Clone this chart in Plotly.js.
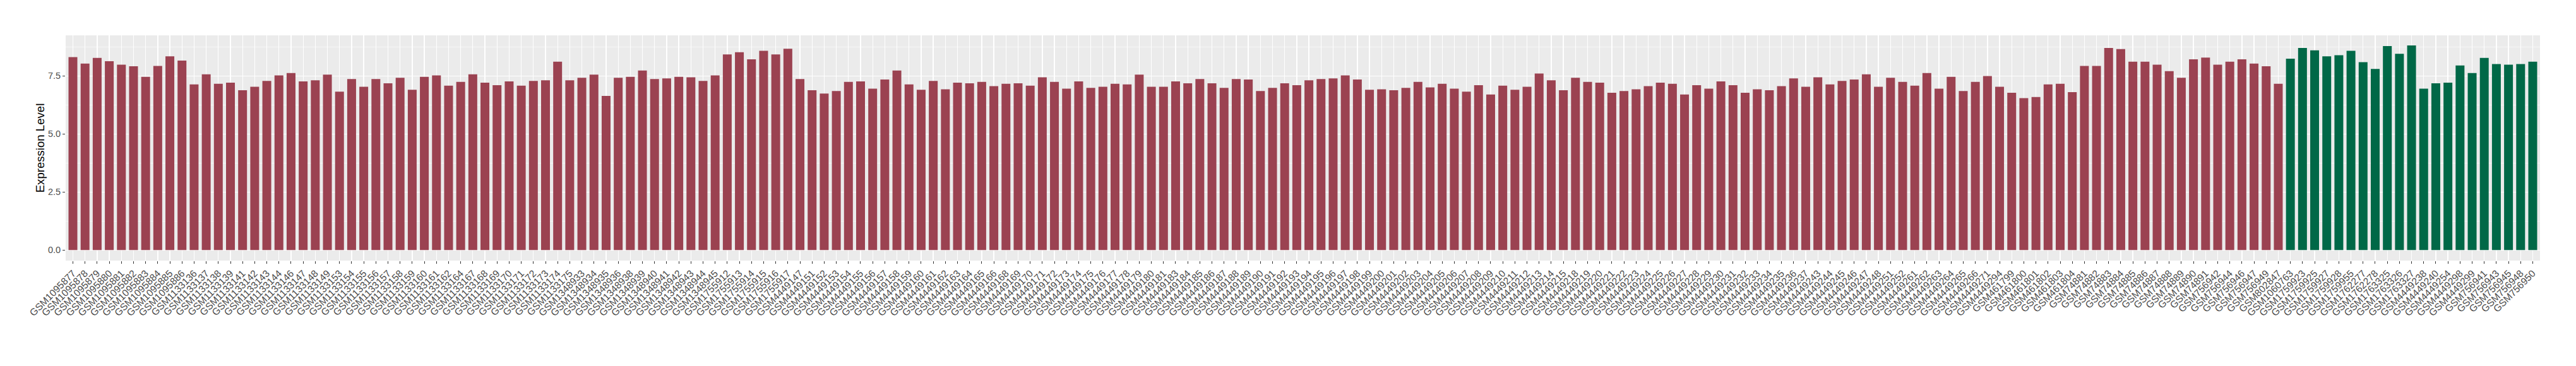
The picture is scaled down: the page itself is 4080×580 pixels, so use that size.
<!DOCTYPE html>
<html>
<head>
<meta charset="utf-8">
<script src="https://cdn.plot.ly/plotly-3.0.1.min.js"></script>
<style>html,body{margin:0;padding:0;background:#fff;}#chart{width:4080px;height:580px;}</style>
</head>
<body>
<div id="chart"></div>
<script>
// Group 1 (red) samples
const samplesGroup1 = [
"GSM1095877","GSM1095878","GSM1095879","GSM1095880","GSM1095881","GSM1095882","GSM1095883","GSM1095884","GSM1095885","GSM1095886",
"GSM1133136","GSM1133137","GSM1133138","GSM1133139","GSM1133141","GSM1133142","GSM1133143","GSM1133144","GSM1133146","GSM1133147",
"GSM1133148","GSM1133149","GSM1133153","GSM1133154","GSM1133155","GSM1133156","GSM1133157","GSM1133158","GSM1133159","GSM1133160",
"GSM1133161","GSM1133162","GSM1133164","GSM1133167","GSM1133168","GSM1133169","GSM1133170","GSM1133171","GSM1133172","GSM1133173",
"GSM1133174","GSM1133175","GSM1348933","GSM1348934","GSM1348935","GSM1348936","GSM1348938","GSM1348939","GSM1348940","GSM1348941",
"GSM1348942","GSM1348943","GSM1348944","GSM1348945","GSM1755912","GSM1755913","GSM1755914","GSM1755915","GSM1755916","GSM1755917",
"GSM4449147","GSM4449151","GSM4449152","GSM4449153","GSM4449154","GSM4449155","GSM4449156","GSM4449157","GSM4449158","GSM4449159",
"GSM4449160","GSM4449161","GSM4449162","GSM4449163","GSM4449164","GSM4449165","GSM4449166","GSM4449168","GSM4449169","GSM4449170",
"GSM4449171","GSM4449172","GSM4449173","GSM4449174","GSM4449175","GSM4449176","GSM4449177","GSM4449178","GSM4449179","GSM4449180",
"GSM4449181","GSM4449183","GSM4449184","GSM4449185","GSM4449186","GSM4449187","GSM4449188","GSM4449189","GSM4449190","GSM4449191",
"GSM4449192","GSM4449193","GSM4449194","GSM4449195","GSM4449196","GSM4449197","GSM4449198","GSM4449199","GSM4449200","GSM4449201",
"GSM4449202","GSM4449203","GSM4449204","GSM4449205","GSM4449206","GSM4449207","GSM4449208","GSM4449209","GSM4449210","GSM4449211",
"GSM4449212","GSM4449213","GSM4449214","GSM4449215","GSM4449218","GSM4449219","GSM4449220","GSM4449221","GSM4449222","GSM4449223",
"GSM4449224","GSM4449225","GSM4449226","GSM4449227","GSM4449228","GSM4449229","GSM4449230","GSM4449231","GSM4449232","GSM4449233",
"GSM4449234","GSM4449235","GSM4449236","GSM4449237","GSM4449243","GSM4449244","GSM4449245","GSM4449246","GSM4449247","GSM4449248",
"GSM4449251","GSM4449252","GSM4449261","GSM4449262","GSM4449263","GSM4449264","GSM4449265","GSM4449266","GSM4449271","GSM4449294",
"GSM461799","GSM461800","GSM461801","GSM461802","GSM461803","GSM461804","GSM74881","GSM74882","GSM74883","GSM74884",
"GSM74885","GSM74886","GSM74887","GSM74888","GSM74889","GSM74890","GSM74891","GSM756942","GSM756944","GSM756946",
"GSM756947","GSM756949","GSM802847"
];
const valuesGroup1 = [
8.31,8.03,8.27,8.13,7.98,7.91,7.46,7.93,8.34,8.16,
7.13,7.57,7.16,7.21,6.88,7.03,7.28,7.52,7.62,7.26,
7.31,7.55,6.82,7.36,7.03,7.36,7.18,7.42,6.90,7.46,
7.52,7.08,7.24,7.57,7.21,7.10,7.26,7.08,7.28,7.31,
8.11,7.31,7.42,7.55,6.64,7.42,7.46,7.73,7.36,7.39,
7.46,7.44,7.28,7.52,8.42,8.52,8.21,8.58,8.42,8.67,
7.36,6.88,6.74,6.85,7.24,7.26,6.95,7.34,7.73,7.13,
6.90,7.28,6.92,7.21,7.18,7.24,7.06,7.16,7.18,7.08,
7.44,7.24,6.95,7.26,6.98,7.03,7.16,7.13,7.55,7.03,
7.03,7.26,7.18,7.36,7.18,6.98,7.36,7.34,6.85,6.98,
7.18,7.10,7.31,7.36,7.39,7.52,7.34,6.90,6.92,6.88,
6.98,7.24,7.00,7.16,6.95,6.82,7.10,6.70,7.08,6.90,
7.03,7.60,7.31,6.88,7.42,7.24,7.21,6.77,6.85,6.92,
7.06,7.21,7.16,6.70,7.10,6.95,7.26,7.10,6.77,6.92,
6.88,7.06,7.39,7.03,7.44,7.13,7.28,7.34,7.57,7.03,
7.42,7.24,7.08,7.62,6.95,7.46,6.85,7.24,7.49,7.03,
6.77,6.54,6.59,7.13,7.16,6.80,7.93,7.93,8.70,8.65,
8.11,8.11,7.98,7.70,7.42,8.21,8.29,7.98,8.11,8.21,
8.03,7.91,7.16
];
// Group 2 (green) samples
const samplesGroup2 = [
"GSM1060763","GSM1759923","GSM1759925","GSM1759927","GSM1759928","GSM1759955","GSM1762277","GSM1762278","GSM1763325","GSM1763326",
"GSM1763327","GSM4449238","GSM4449240","GSM4449254","GSM4449298","GSM4449299","GSM756941","GSM756943","GSM756945","GSM756948",
"GSM756950"
];
const valuesGroup2 = [
8.24,8.70,8.60,8.34,8.39,8.58,8.09,7.80,8.78,8.45,
8.81,6.95,7.18,7.21,7.95,7.62,8.27,8.01,7.98,8.01,
8.11
];
const yTickVals = [0, 2.5, 5, 7.5];
const yTickText = ["0.0", "2.5", "5.0", "7.5"];

const allSamples = samplesGroup1.concat(samplesGroup2);
const n = allSamples.length;

const traces = [
  {type: "bar", x: samplesGroup1, y: valuesGroup1, marker: {color: "#9B4251"}, hoverinfo: "x+y"},
  {type: "bar", x: samplesGroup2, y: valuesGroup2, marker: {color: "#006847"}, hoverinfo: "x+y"}
];

const layout = {
  width: 4080, height: 580,
  margin: {l: 104, r: 57, t: 56, b: 167, pad: 0},
  paper_bgcolor: "#FFFFFF",
  plot_bgcolor: "#EBEBEB",
  barmode: "overlay",
  bargap: 0.27,
  showlegend: false,
  font: {family: "Liberation Sans, Arial, sans-serif", color: "#4D4D4D"},
  xaxis: {
    type: "category",
    categoryorder: "array",
    categoryarray: allSamples,
    range: [-0.6, n - 1 + 0.6],
    showgrid: true, gridcolor: "#FFFFFF", gridwidth: 1.3,
    zeroline: false, showline: false,
    ticks: "outside", ticklen: 4, tickwidth: 1, tickcolor: "#333333",
    tickangle: -45,
    tickfont: {size: 15.5, color: "#4D4D4D", family: "Liberation Sans, Arial, sans-serif"},
    automargin: false
  },
  yaxis: {
    range: [-0.452, 9.244],
    tickvals: yTickVals, ticktext: yTickText,
    showgrid: true, gridcolor: "#FFFFFF", gridwidth: 1.3,
    minor: {tick0: 0, dtick: 1.25, showgrid: true, gridcolor: "#FFFFFF", gridwidth: 0.6, ticks: ""},
    zeroline: false, showline: false,
    ticks: "outside", ticklen: 4, tickwidth: 1, tickcolor: "#333333",
    tickfont: {size: 14.5, color: "#4D4D4D", family: "Liberation Sans, Arial, sans-serif"},
    title: {text: "Expression Level", font: {size: 18.6, color: "#000000", family: "Liberation Sans, Arial, sans-serif"}, standoff: 0},
    automargin: false
  }
};

Plotly.newPlot("chart", traces, layout, {staticPlot: true, displayModeBar: false});
</script>
</body>
</html>
